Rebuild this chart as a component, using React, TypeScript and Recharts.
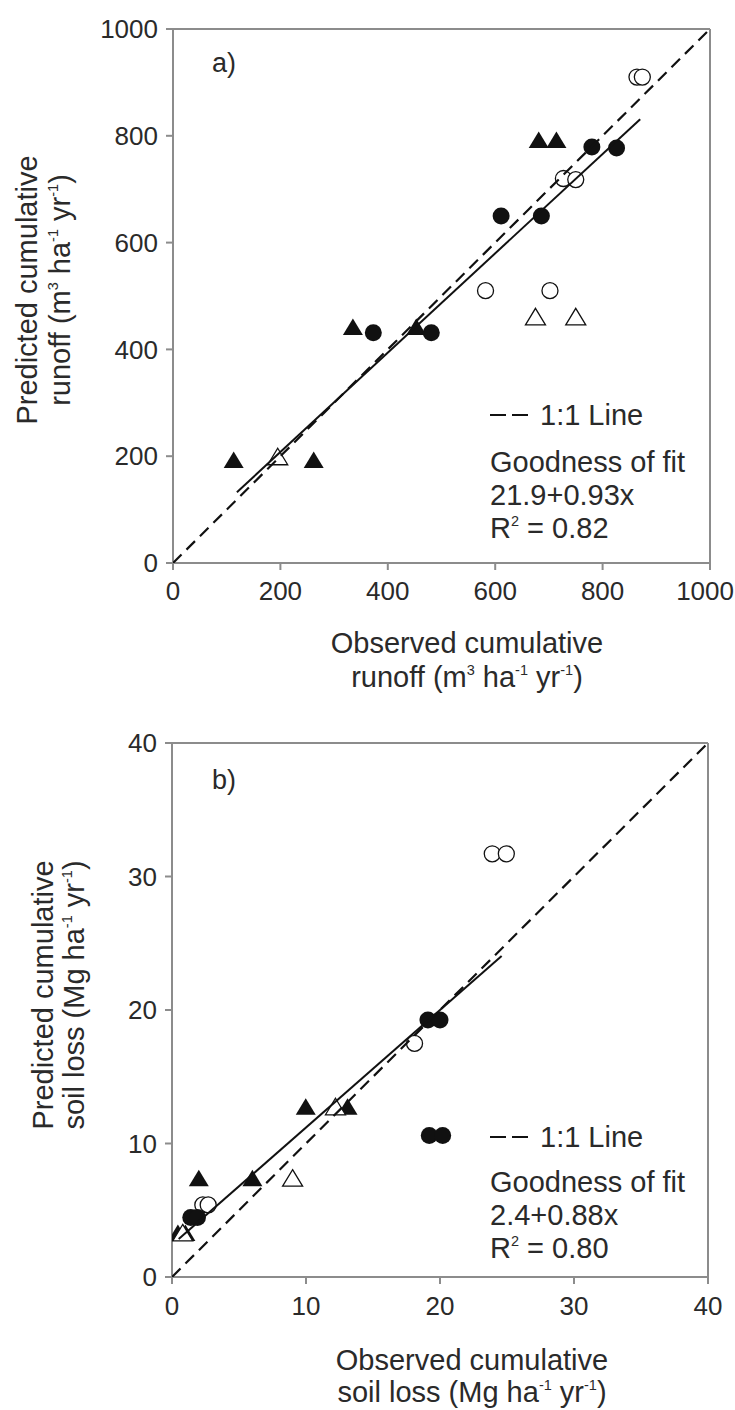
import React from 'react';
import { ScatterChart, Scatter, XAxis, YAxis, ReferenceLine } from 'recharts';

const FONT = '"Liberation Sans", Arial, Helvetica, sans-serif';

// ---------- Panel a: runoff (m3 ha-1 yr-1) ----------
const runoffTicks = [0, 200, 400, 600, 800, 1000];
const aFilledCircleObs = [373, 481, 611, 686, 780, 826];
const aFilledCirclePred = [431, 431, 650, 650, 779, 777];
const aOpenCircleObs = [582, 702, 727, 750, 864, 874];
const aOpenCirclePred = [510, 510, 720, 718, 910, 910];
const aFilledTriObs = [113, 262, 335, 453, 681, 714];
const aFilledTriPred = [193, 193, 442, 442, 792, 792];
const aOpenTriObs = [195, 675, 750];
const aOpenTriPred = [199, 461, 461];
const aFitIntercept = 21.9;
const aFitSlope = 0.93;
const aFitRange = [119, 870];
const aOneToOne = [0, 1000];

// ---------- Panel b: soil loss (Mg ha-1 yr-1) ----------
const soilTicks = [0, 10, 20, 30, 40];
const bFilledCircleObs = [1.4, 1.9, 19.1, 20.0, 19.2, 20.2];
const bFilledCirclePred = [4.45, 4.45, 19.25, 19.25, 10.6, 10.6];
const bOpenCircleObs = [2.3, 2.7, 18.1, 23.9, 24.95];
const bOpenCirclePred = [5.4, 5.4, 17.5, 31.7, 31.7];
const bFilledTriObs = [0.44, 1.0, 2.0, 6.0, 9.98, 13.1];
const bFilledTriPred = [3.3, 3.3, 7.4, 7.4, 12.75, 12.75];
const bOpenTriObs = [0.8, 9.0, 12.2];
const bOpenTriPred = [3.3, 7.4, 12.75];
const bFitIntercept = 2.4;
const bFitSlope = 0.88;
const bFitRange = [0.5, 24.6];
const bOneToOne = [0, 40];

// ---------- Text ----------
type Part = [string, boolean];
const obsTitle = 'Observed cumulative';
const predTitle = 'Predicted cumulative';
const runoffUnit: Part[] = [['runoff (m', false], ['3', true], [' ha', false], ['-1', true], [' yr', false], ['-1', true], [')', false]];
const soilUnit: Part[] = [['soil loss (Mg ha', false], ['-1', true], [' yr', false], ['-1', true], [')', false]];
const aLabel = 'a)';
const bLabel = 'b)';
const lineLegend = '1:1 Line';
const fitTitle = 'Goodness of fit';
const aFitText = '21.9+0.93x';
const bFitText = '2.4+0.88x';
const aR2: Part[] = [['R', false], ['2', true], [' = 0.82', false]];
const bR2: Part[] = [['R', false], ['2', true], [' = 0.80', false]];

const zip = (xs: number[], ys: number[]) => xs.map((x, i) => ({ x, y: ys[i] }));
const fitLine = (a: number, b: number, r: number[]) => r.map((x) => ({ x, y: a + b * x }));
const diag = (r: number[]) => r.map((v) => ({ x: v, y: v }));

const INK = '#111';
const AXIS = '#8c8c8c';
const TEXT = '#2a2a2a';

const FilledCircle = (p: any) => <circle cx={p.cx} cy={p.cy} r={8.5} fill={INK} />;
const OpenCircle = (p: any) => <circle cx={p.cx} cy={p.cy} r={8} fill="#fff" stroke={INK} strokeWidth={1.3} />;
const triPts = (cx: number, cy: number) => `${cx},${cy - 8.5} ${cx + 10},${cy + 8} ${cx - 10},${cy + 8}`;
const FilledTri = (p: any) => <polygon points={triPts(p.cx, p.cy)} fill={INK} />;
const OpenTri = (p: any) => <polygon points={triPts(p.cx, p.cy)} fill="#fff" stroke={INK} strokeWidth={1.3} />;
const NoShape = () => <g />;

const renderParts = (parts: Part[], fs: number) => {
  const out: React.ReactNode[] = [];
  let raised = false;
  parts.forEach(([t, sup], i) => {
    let dy = 0;
    if (sup && !raised) { dy = -fs * 0.42; raised = true; }
    else if (!sup && raised) { dy = fs * 0.42; raised = false; }
    out.push(
      <tspan key={i} dy={dy} fontSize={sup ? fs * 0.5 : fs}>{t}</tspan>
    );
  });
  return out;
};

const AxisTitles = ({ xCenter, xBase, yCenter, yBase, unit }: any) => (
  <g fontFamily={FONT} fill={TEXT}>
    <text x={xCenter} y={xBase[0]} textAnchor="middle" fontSize={29}>{obsTitle}</text>
    <text x={xCenter} y={xBase[1]} textAnchor="middle" fontSize={29}>{renderParts(unit, 29)}</text>
    <text x={yBase[0]} y={yCenter} textAnchor="middle" fontSize={29} transform={`rotate(-90 ${yBase[0]} ${yCenter})`}>{predTitle}</text>
    <text x={yBase[1]} y={yCenter} textAnchor="middle" fontSize={29} transform={`rotate(-90 ${yBase[1]} ${yCenter})`}>{renderParts(unit, 29)}</text>
  </g>
);

const Annotations = ({ tag, tagY, legY, fitY, fitText, r2 }: any) => (
  <g fontFamily={FONT} fill={TEXT}>
    <text x={212} y={tagY} fontSize={27}>{tag}</text>
    <line x1={490} x2={528} y1={legY - 10} y2={legY - 10} stroke={INK} strokeWidth={2.2} strokeDasharray="16 6" />
    <text x={540} y={legY} fontSize={29}>{lineLegend}</text>
    <text x={490} y={fitY} fontSize={29}>{fitTitle}</text>
    <text x={490} y={fitY + 33} fontSize={29}>{fitText}</text>
    <text x={490} y={fitY + 66} fontSize={29}>{renderParts(r2, 29)}</text>
  </g>
);

const tickStyle = { fill: TEXT, fontSize: 26, fontFamily: FONT };

// x tick: the last label is kept inside the picture, as in the reference
const makeXTick = (maxVal: number) => (p: any) => {
  const last = p.payload.value === maxVal;
  return (
    <text x={last ? p.x + 24 : p.x} y={p.y} dy="0.71em" textAnchor={last ? 'end' : 'middle'}
      fill={TEXT} fontSize={26} fontFamily={FONT}>{p.payload.value}</text>
  );
};
const XTickA = makeXTick(1000);

export default function App() {
  return (
    <div style={{ position: 'absolute', left: 0, top: 0, width: 735, height: 1410, background: '#fff', fontFamily: FONT }}>
      <div style={{ position: 'absolute', left: 0, top: 0 }}>
        <ScatterChart width={735} height={700} margin={{ top: 29, right: 25, bottom: 0, left: 0 }}>
          <XAxis type="number" dataKey="x" domain={[0, 1000]} ticks={runoffTicks} height={137}
            stroke={AXIS} strokeWidth={2} tickSize={7} tickMargin={12} tick={XTickA} allowDataOverflow />
          <YAxis type="number" dataKey="y" domain={[0, 1000]} ticks={runoffTicks} width={173}
            stroke={AXIS} strokeWidth={2} tickSize={7} tickMargin={8} tick={tickStyle} allowDataOverflow />
          <ReferenceLine y={1000} stroke={AXIS} strokeWidth={2} />
          <ReferenceLine x={1000} stroke={AXIS} strokeWidth={2} />
          <Scatter data={zip(aFilledTriObs, aFilledTriPred)} shape={FilledTri} isAnimationActive={false} />
          <Scatter data={zip(aOpenTriObs, aOpenTriPred)} shape={OpenTri} isAnimationActive={false} />
          <Scatter data={zip(aOpenCircleObs, aOpenCirclePred)} shape={OpenCircle} isAnimationActive={false} />
          <Scatter data={zip(aFilledCircleObs, aFilledCirclePred)} shape={FilledCircle} isAnimationActive={false} />
          <Scatter data={diag(aOneToOne)} shape={NoShape} line={{ stroke: INK, strokeWidth: 2.2, strokeDasharray: '12 7' }} isAnimationActive={false} />
          <Scatter data={fitLine(aFitIntercept, aFitSlope, aFitRange)} shape={NoShape} line={{ stroke: INK, strokeWidth: 2 }} isAnimationActive={false} />
          <AxisTitles xCenter={467} xBase={[653, 687]} yCenter={290} yBase={[37, 70]} unit={runoffUnit} />
          <Annotations tag={aLabel} tagY={72} legY={425} fitY={472} fitText={aFitText} r2={aR2} />
        </ScatterChart>
      </div>
      <div style={{ position: 'absolute', left: 0, top: 705 }}>
        <ScatterChart width={735} height={705} margin={{ top: 38, right: 27, bottom: 0, left: 0 }}>
          <XAxis type="number" dataKey="x" domain={[0, 40]} ticks={soilTicks} height={133}
            stroke={AXIS} strokeWidth={2} tickSize={7} tickMargin={13} tick={tickStyle} allowDataOverflow />
          <YAxis type="number" dataKey="y" domain={[0, 40]} ticks={soilTicks} width={172}
            stroke={AXIS} strokeWidth={2} tickSize={7} tickMargin={8} tick={tickStyle} allowDataOverflow />
          <ReferenceLine y={40} stroke={AXIS} strokeWidth={2} />
          <ReferenceLine x={40} stroke={AXIS} strokeWidth={2} />
          <Scatter data={zip(bFilledTriObs, bFilledTriPred)} shape={FilledTri} isAnimationActive={false} />
          <Scatter data={zip(bOpenTriObs, bOpenTriPred)} shape={OpenTri} isAnimationActive={false} />
          <Scatter data={zip(bOpenCircleObs, bOpenCirclePred)} shape={OpenCircle} isAnimationActive={false} />
          <Scatter data={zip(bFilledCircleObs, bFilledCirclePred)} shape={FilledCircle} isAnimationActive={false} />
          <Scatter data={diag(bOneToOne)} shape={NoShape} line={{ stroke: INK, strokeWidth: 2.2, strokeDasharray: '12 7' }} isAnimationActive={false} />
          <Scatter data={fitLine(bFitIntercept, bFitSlope, bFitRange)} shape={NoShape} line={{ stroke: INK, strokeWidth: 2 }} isAnimationActive={false} />
          <AxisTitles xCenter={472} xBase={[665, 697]} yCenter={290} yBase={[53, 84]} unit={soilUnit} />
          <Annotations tag={bLabel} tagY={84} legY={442} fitY={487} fitText={bFitText} r2={bR2} />
        </ScatterChart>
      </div>
    </div>
  );
}
